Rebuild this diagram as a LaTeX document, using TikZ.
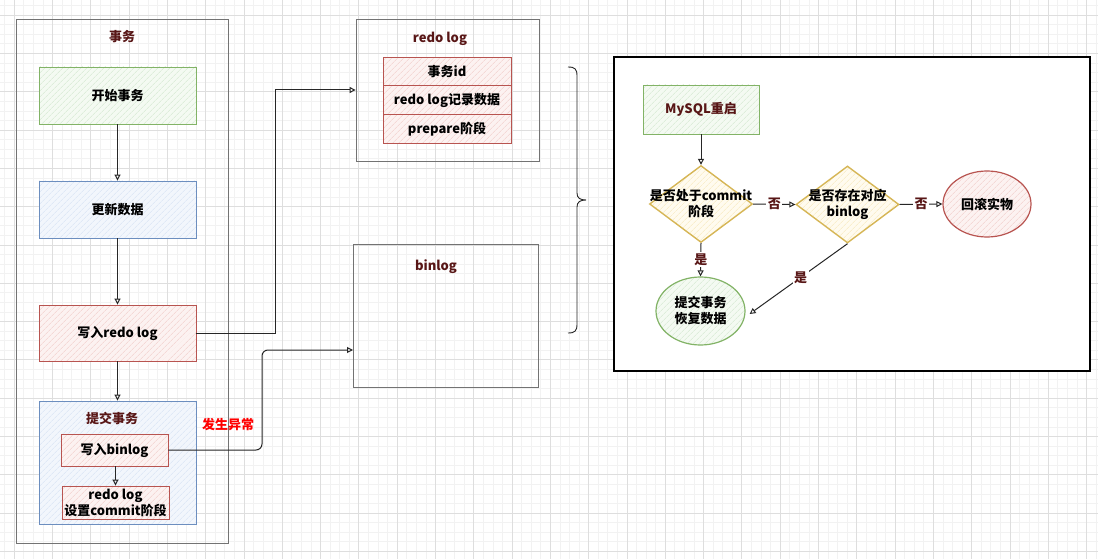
\documentclass[tikz,border=0pt]{standalone}
\usepackage{fontspec}
\setmainfont{Noto Sans CJK SC}
\usetikzlibrary{arrows.meta,shapes.geometric,patterns.meta}
\definecolor{greenS}{HTML}{82B366}\definecolor{greenF}{HTML}{F4FAF2}\definecolor{greenH}{HTML}{D2E7CE}
\definecolor{blueS}{HTML}{6C8EBF}\definecolor{blueF}{HTML}{F2F6FC}\definecolor{blueH}{HTML}{D5E2F4}
\definecolor{redS}{HTML}{B85450}\definecolor{redF}{HTML}{FCF2F1}\definecolor{redH}{HTML}{F0CBC8}
\definecolor{yelS}{HTML}{D6B656}\definecolor{yelF}{HTML}{FFFBEF}\definecolor{yelH}{HTML}{F6E8BA}
\definecolor{titlecol}{RGB}{88,22,22}
\definecolor{gridmaj}{RGB}{222,222,222}
\definecolor{gridmin}{RGB}{242,242,242}
\tikzset{
  x=1pt, y=-1pt,
  txt/.style={font=\fontsize{13}{16}\selectfont\bfseries, align=center, inner sep=0pt},
  hatch/.style n args={3}{draw=#1, line width=0.9pt, preaction={fill=#2},
     pattern={Lines[angle=45,distance=4pt,line width=0.5pt]}, pattern color=#3},
  gbox/.style={hatch={greenS}{greenF}{greenH}, txt, minimum width=157pt, minimum height=57pt},
  bbox/.style={hatch={blueS}{blueF}{blueH}, txt, minimum width=157pt, minimum height=57pt},
  rbox/.style={hatch={redS}{redF}{redH}, txt, minimum width=157pt, minimum height=57pt},
  frame/.style={draw=black!55, line width=0.8pt, inner sep=0pt},
  title/.style={txt, text=titlecol},
  arr/.style={-{Triangle[open,length=6pt,width=6pt]}, line width=1pt, draw=black!85},
  elabel/.style={txt, text=titlecol, fill=white, inner sep=1.5pt},
}
\begin{document}
\begin{tikzpicture}
\useasboundingbox (0,0) rectangle (1098,559);
\fill[white] (0,0) rectangle (1098,559);
% grid
\foreach \i in {0,...,115} \draw[gridmin, line width=0.4pt] ({4.4+9.575*\i},0) -- ({4.4+9.575*\i},559);
\foreach \i in {0,...,59} \draw[gridmin, line width=0.4pt] (0,{5.4+9.575*\i}) -- (1098,{5.4+9.575*\i});
\foreach \i in {0,...,29} \draw[gridmaj, line width=0.6pt] ({14+38.3*\i},0) -- ({14+38.3*\i},559);
\foreach \i in {0,...,15} \draw[gridmaj, line width=0.6pt] (0,{15+38.3*\i}) -- (1098,{15+38.3*\i});

% left: transaction
\node[frame, minimum width=212pt, minimum height=524pt] (outer) at (122,281) {};
\node[title] (outerT) at (122,37) {事务};
\node[gbox] (start) at (117.5,95.5) {开始事务};
\node[bbox] (update) at (117.5,209.5) {更新数据};
\node[rbox, minimum height=56pt] (wredo) at (117.5,333) {写入redo log};
\node[bbox, minimum height=123pt] (commit) at (117.5,462.5) {};
\node[title] (commitT) at (112,418) {提交事务};
\node[rbox, minimum width=107pt, minimum height=32pt] (wbin) at (114.5,450) {写入binlog};
\node[rbox, minimum width=107pt, minimum height=33pt] (rcommit) at (115.5,502.5) {redo log\\设置commit阶段};
\node[txt, text=red] (exc) at (228,425) {发生异常};

\draw[arr] (start.south) -- (update.north);
\draw[arr] (update.south) -- (wredo.north);
\draw[arr] (wredo.south) -- (commit.north);
\draw[arr] (wbin.south -| rcommit.north) -- (rcommit.north);

% middle: logs
\node[frame, minimum width=183pt, minimum height=142pt] (redobox) at (447.5,90) {};
\node[title] (redoT) at (440,39) {redo log};
\node[hatch={redS}{redF}{redH}, txt, minimum width=128pt, minimum height=28.7pt] (r1) at (447,71.5) {事务id};
\node[hatch={redS}{redF}{redH}, txt, minimum width=128pt, minimum height=28.7pt] (r2) at (447,100.2) {redo log记录数据};
\node[hatch={redS}{redF}{redH}, txt, minimum width=128pt, minimum height=28.7pt] (r3) at (447,128.9) {prepare阶段};
\node[frame, minimum width=185pt, minimum height=143pt] (binbox) at (445.5,315.5) {};
\node[title] (binT) at (436,267) {binlog};

\draw[arr] (wredo.east) -- (275,333) |- (redobox.west);
\coordinate (binin) at (353,350);
\draw[arr, rounded corners=6pt] (wbin.east) -- (262,450) -- (262,350) -- (binin);

% brace
\draw[line width=0.9pt, black!85] (568,67) .. controls (575,67) and (577,69) .. (577,76) -- (577,193)
  .. controls (577,198) and (580,200) .. (586,200) .. controls (580,200) and (577,202) .. (577,207)
  -- (577,324) .. controls (577,331) and (575,333) .. (568,333);

% right: recovery
\draw[black, line width=1.2pt, fill=white] (614,57) rectangle (1090,371);
\node[gbox, minimum width=116pt, minimum height=49pt, text=titlecol] (mysql) at (701,109.5) {MySQL重启};
\node[diamond, hatch={yelS}{yelF}{yelH}, line width=1.4pt, inner sep=0pt, minimum width=103pt, minimum height=77pt] (d1) at (701,204) {};
\node[txt] (d1t) at (701,204) {是否处于commit\\阶段};
\node[diamond, hatch={yelS}{yelF}{yelH}, line width=1.4pt, inner sep=0pt, minimum width=103pt, minimum height=77pt] (d2) at (847.5,204.5) {};
\node[txt] (d2t) at (847.5,204) {是否存在对应\\binlog};
\node[ellipse, hatch={redS}{redF}{redH}, line width=1.2pt, txt, minimum width=88pt, minimum height=66pt] (rb) at (987,204) {回滚实物};
\node[ellipse, hatch={greenS}{greenF}{greenH}, line width=1.2pt, txt, minimum width=89pt, minimum height=68pt] (ok) at (700.5,311) {提交事务\\恢复数据};

\draw[arr] (mysql.south) -- (d1.north);
\draw[arr] (d1.east) -- (d2.west) node[elabel, midway] {否};
\draw[arr] (d2.east) -- (rb.west) node[elabel, midway] {否};
\draw[arr] (d1.south) -- (ok.north) node[elabel, midway] {是};
\draw[arr] (d2.south) -- ([shift={(4pt,-3pt)}]ok.east) node[elabel, pos=0.48] {是};
\end{tikzpicture}
\end{document}
